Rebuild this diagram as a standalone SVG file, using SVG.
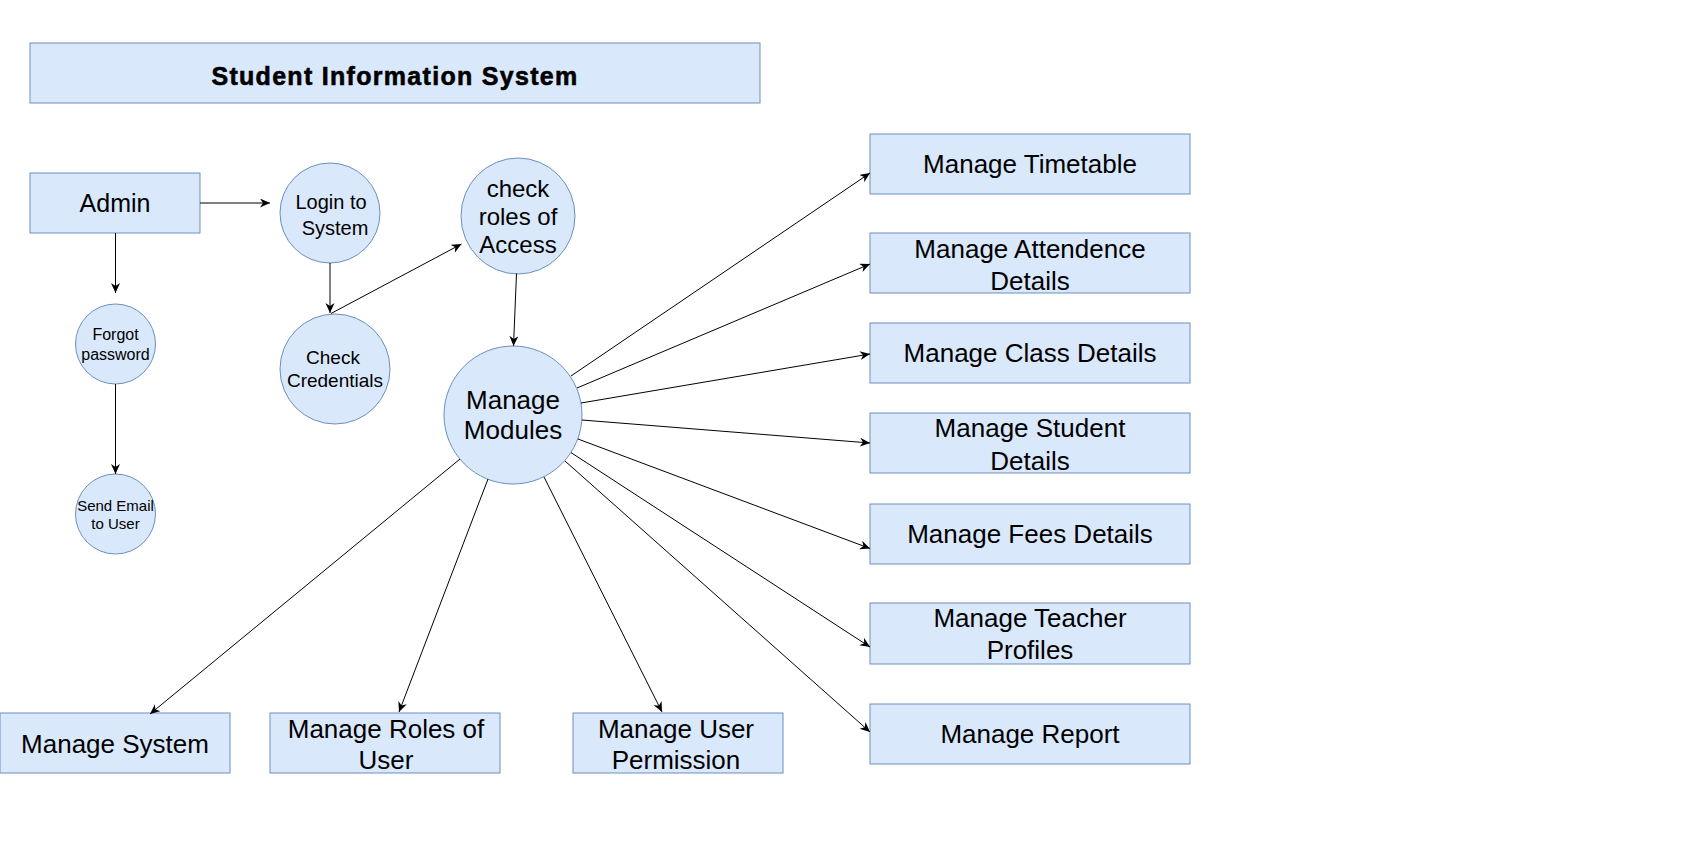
<svg xmlns="http://www.w3.org/2000/svg" width="1695" height="845" viewBox="0 0 1695 845">
<style>
.box{fill:#dae8fc;stroke:#6c8ebf;stroke-width:1}
.t{font-family:"Liberation Sans",Arial,sans-serif;fill:#000;text-anchor:middle}
.edge{fill:none;stroke:#000;stroke-width:1}
</style>
<defs>
<marker id="arr" markerUnits="userSpaceOnUse" markerWidth="12" markerHeight="10" refX="10" refY="4.5" orient="auto">
<path d="M0,0 L10,4.5 L0,9 L3,4.5 Z" fill="#000"/>
</marker>
</defs>
<rect width="1695" height="845" fill="#fff"/>
<g id="title"><rect class="box" x="30" y="43" width="730" height="60"/><text class="t" x="395" y="85" font-size="25" font-weight="bold" letter-spacing="1.3" stroke="#000" stroke-width="0.6">Student Information System</text></g>
<g id="admin"><rect class="box" x="30" y="173" width="170" height="60"/><text class="t" x="115" y="212" font-size="25">Admin</text></g>
<g id="login"><circle class="box" cx="330" cy="213" r="50"/><text class="t" font-size="20"><tspan x="331" y="209">Login to</tspan><tspan x="335" y="235">System</tspan></text></g>
<g id="credentials"><circle class="box" cx="335" cy="369" r="55"/><text class="t" font-size="19"><tspan x="333" y="364">Check</tspan><tspan x="335" y="387">Credentials</tspan></text></g>
<g id="roles"><ellipse class="box" cx="518" cy="216" rx="57" ry="58"/><text class="t" font-size="24"><tspan x="518" y="197">check</tspan><tspan x="518" y="225">roles of</tspan><tspan x="518" y="253">Access</tspan></text></g>
<g id="modules"><circle class="box" cx="513" cy="415" r="69"/><text class="t" font-size="26"><tspan x="513" y="409">Manage</tspan><tspan x="513" y="439">Modules</tspan></text></g>
<g id="forgot"><circle class="box" cx="115.5" cy="344" r="40"/><text class="t" font-size="16"><tspan x="115.5" y="340">Forgot</tspan><tspan x="115.5" y="360">password</tspan></text></g>
<g id="sendemail"><circle class="box" cx="115.5" cy="514" r="40"/><text class="t" font-size="15"><tspan x="115.5" y="511">Send Email</tspan><tspan x="115.5" y="529">to User</tspan></text></g>
<g id="timetable"><rect class="box" x="870" y="134" width="320" height="60"/><text class="t" x="1030" y="173" font-size="26">Manage Timetable</text></g>
<g id="attendence"><rect class="box" x="870" y="233" width="320" height="60"/><text class="t" font-size="26"><tspan x="1030" y="258">Manage Attendence</tspan><tspan x="1030" y="290">Details</tspan></text></g>
<g id="class"><rect class="box" x="870" y="323" width="320" height="60"/><text class="t" x="1030" y="362" font-size="26">Manage Class Details</text></g>
<g id="student"><rect class="box" x="870" y="413" width="320" height="60"/><text class="t" font-size="26"><tspan x="1030" y="437">Manage Student</tspan><tspan x="1030" y="470">Details</tspan></text></g>
<g id="fees"><rect class="box" x="870" y="504" width="320" height="60"/><text class="t" x="1030" y="543" font-size="26">Manage Fees Details</text></g>
<g id="teacher"><rect class="box" x="870" y="603" width="320" height="61"/><text class="t" font-size="26"><tspan x="1030" y="627">Manage Teacher</tspan><tspan x="1030" y="659">Profiles</tspan></text></g>
<g id="report"><rect class="box" x="870" y="704" width="320" height="60"/><text class="t" x="1030" y="743" font-size="26">Manage Report</text></g>
<g id="system"><rect class="box" x="0" y="713" width="230" height="60"/><text class="t" x="115" y="753" font-size="26">Manage System</text></g>
<g id="rolesuser"><rect class="box" x="270" y="713" width="230" height="60"/><text class="t" font-size="26"><tspan x="386" y="738">Manage Roles of</tspan><tspan x="386" y="769">User</tspan></text></g>
<g id="permission"><rect class="box" x="573" y="713" width="210" height="60"/><text class="t" font-size="26"><tspan x="676" y="738">Manage User</tspan><tspan x="676" y="769">Permission</tspan></text></g>
<g id="connectors">
<path class="edge" marker-end="url(#arr)" d="M200,203 L270,203"/>
<path class="edge" marker-end="url(#arr)" d="M115.5,233 L115.5,293"/>
<path class="edge" marker-end="url(#arr)" d="M115.5,384 L115.5,474"/>
<path class="edge" marker-end="url(#arr)" d="M330,263 L330,313"/>
<path class="edge" marker-end="url(#arr)" d="M331,313.5 L461.5,244"/>
<path class="edge" marker-end="url(#arr)" d="M516.5,273.5 L513.5,346"/>
<path class="edge" marker-end="url(#arr)" d="M571,376 L870,173"/>
<path class="edge" marker-end="url(#arr)" d="M577,388 L870,264"/>
<path class="edge" marker-end="url(#arr)" d="M581,403 L870,354"/>
<path class="edge" marker-end="url(#arr)" d="M582,420 L870,443"/>
<path class="edge" marker-end="url(#arr)" d="M578,439 L870,548.5"/>
<path class="edge" marker-end="url(#arr)" d="M571,452.6 L870,647"/>
<path class="edge" marker-end="url(#arr)" d="M565,461 L870,732"/>
<path class="edge" marker-end="url(#arr)" d="M460,459 L150,714"/>
<path class="edge" marker-end="url(#arr)" d="M488,479 L399,712"/>
<path class="edge" marker-end="url(#arr)" d="M544,477 L662,712"/>
</g>
</svg>
